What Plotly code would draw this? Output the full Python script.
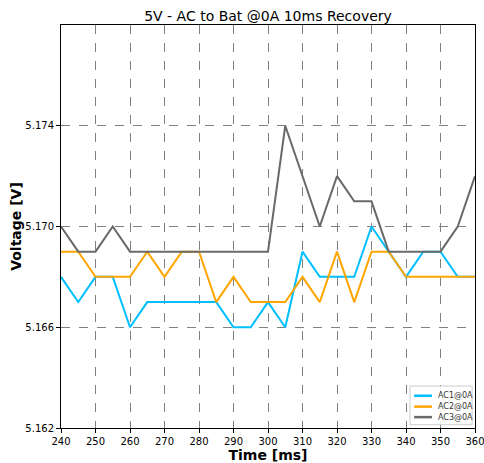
import plotly.graph_objects as go

# Sample times (ms) and measured output voltages (V)
time_ms = [240, 245, 250, 255, 260, 265, 270, 275, 280, 285, 290, 295, 300,
           305, 310, 315, 320, 325, 330, 335, 340, 345, 350, 355, 360]
ac1 = [5.168, 5.167, 5.168, 5.168, 5.166, 5.167, 5.167, 5.167, 5.167, 5.167, 5.166, 5.166, 5.167,
       5.166, 5.169, 5.168, 5.168, 5.168, 5.170, 5.169, 5.168, 5.169, 5.169, 5.168, 5.168]
ac2 = [5.169, 5.169, 5.168, 5.168, 5.168, 5.169, 5.168, 5.169, 5.169, 5.167, 5.168, 5.167, 5.167,
       5.167, 5.168, 5.167, 5.169, 5.167, 5.169, 5.169, 5.168, 5.168, 5.168, 5.168, 5.168]
ac3 = [5.170, 5.169, 5.169, 5.170, 5.169, 5.169, 5.169, 5.169, 5.169, 5.169, 5.169, 5.169, 5.169,
       5.174, 5.172, 5.170, 5.172, 5.171, 5.171, 5.169, 5.169, 5.169, 5.169, 5.170, 5.172]

series_names = ["AC1@0A", "AC2@0A", "AC3@0A"]
series_values = [ac1, ac2, ac3]
series_colors = ["#00BFFF", "#FFA500", "#696969"]
x_ticks = list(range(240, 361, 10))
y_ticks = [5.162, 5.166, 5.170, 5.174]

fig = go.Figure()
for name, vals, color in zip(series_names, series_values, series_colors):
    fig.add_trace(go.Scatter(x=time_ms, y=vals, mode="lines", name=name,
                             line=dict(color=color, width=2), showlegend=False))

# Compact legend box in the lower-right corner of the plotting area
shapes = [dict(type="rect", xref="paper", yref="paper", x0=0.843, x1=0.993, y0=0.008, y1=0.104,
               line=dict(color="#cccccc", width=1), fillcolor="rgba(255,255,255,0.85)", layer="above")]
annotations = []
row_y = [0.080, 0.053, 0.027]
for name, color, yy in zip(series_names, series_colors, row_y):
    shapes.append(dict(type="line", xref="paper", yref="paper", x0=0.853, x1=0.896, y0=yy, y1=yy,
                       line=dict(color=color, width=2.5), layer="above"))
    annotations.append(dict(xref="paper", yref="paper", x=0.906, y=yy, text=name, showarrow=False,
                            xanchor="left", yanchor="middle", font=dict(size=8, color="#333333")))

axis_common = dict(showline=True, linecolor="black", linewidth=1, mirror=True,
                   ticks="outside", ticklen=4, tickcolor="black", ticklabeloverflow="allow",
                   showgrid=True, gridcolor="#808080", griddash="dash", gridwidth=1,
                   zeroline=False, tickfont=dict(size=10, color="black"))

fig.update_layout(
    width=484, height=463,
    margin=dict(l=61, r=9, t=25, b=35, autoexpand=False),
    paper_bgcolor="white", plot_bgcolor="white",
    font=dict(family="DejaVu Sans", color="black"),
    title=dict(text="5V - AC to Bat @0A 10ms Recovery", x=0.5, xref="paper",
               y=0.965, yref="container", yanchor="middle",
               font=dict(size=14, color="black")),
    xaxis=dict(range=[240, 360], tickvals=x_ticks,
               title=dict(text="<b>Time [ms]</b>", font=dict(size=14), standoff=2),
               **axis_common),
    yaxis=dict(range=[5.162, 5.178], tickvals=y_ticks, tickformat=".3f",
               title=dict(text="<b>Voltage [V]</b>", font=dict(size=14), standoff=0),
               **axis_common),
    shapes=shapes,
    annotations=annotations,
    showlegend=False,
)

fig.write_html("out.html")
